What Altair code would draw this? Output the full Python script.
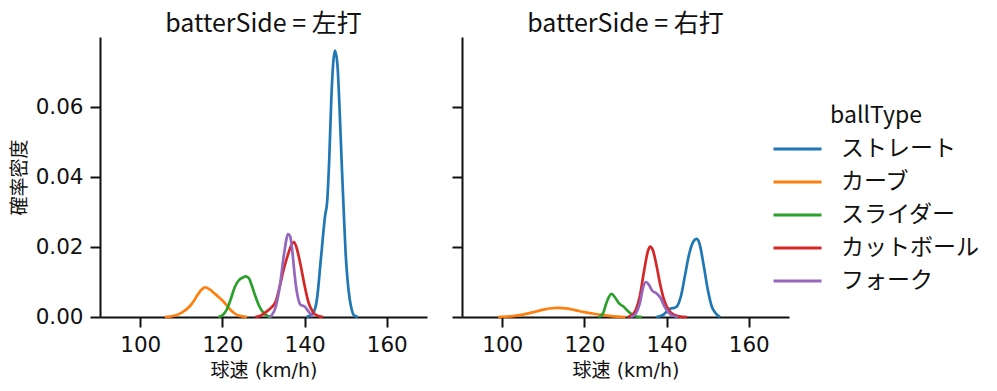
import altair as alt
import pandas as pd

ball_types = ["ストレート", "カーブ", "スライダー", "カットボール", "フォーク"]
colors = ["#1f77b4", "#ff7f0e", "#2ca02c", "#d62728", "#9467bd"]
sides = ["左打", "右打"]

# ---- 左打 ----
L_st_x = [140.5, 142, 143, 144, 145, 145.5, 146, 146.5, 147, 147.4, 148, 148.5, 149, 149.5, 150, 150.5, 151, 151.5, 152, 153]
L_st_y = [0, 0.001, 0.005, 0.017, 0.029, 0.033, 0.045, 0.062, 0.073, 0.0761, 0.072, 0.060, 0.045, 0.031, 0.018, 0.010, 0.005, 0.002, 0.0005, 0]
L_cv_x = [106, 108, 110, 112, 113, 114, 115, 115.8, 117, 118, 119, 120, 121, 122, 123, 124, 126]
L_cv_y = [0, 0.0003, 0.0012, 0.003, 0.0045, 0.0064, 0.0079, 0.0085, 0.0078, 0.0068, 0.0058, 0.0047, 0.0034, 0.002, 0.001, 0.0004, 0]
L_sl_x = [119, 120, 121, 122, 123, 124, 125, 125.7, 126.5, 127, 128, 129, 130, 131, 132]
L_sl_y = [0, 0.0005, 0.002, 0.005, 0.0085, 0.0105, 0.0113, 0.0116, 0.011, 0.0095, 0.006, 0.003, 0.0012, 0.0003, 0]
L_ct_x = [128, 129.5, 131, 132, 133, 134, 135, 136, 137, 137.4, 138, 139, 140, 141, 142, 143, 144.5]
L_ct_y = [0, 0.0005, 0.0018, 0.0028, 0.0045, 0.009, 0.014, 0.018, 0.021, 0.0214, 0.020, 0.015, 0.009, 0.004, 0.0015, 0.0004, 0]
L_fk_x = [131.3, 132, 133, 134, 135, 136, 136.5, 137, 137.5, 138, 138.5, 139, 140, 141, 142]
L_fk_y = [0, 0.0005, 0.003, 0.009, 0.018, 0.0237, 0.023, 0.019, 0.013, 0.008, 0.005, 0.0035, 0.003, 0.0015, 0]

# ---- 右打 ----
R_st_x = [137.5, 139, 140, 141, 141.8, 142.5, 143.5, 144.5, 145.5, 146.5, 147.3, 148, 149, 150, 151, 152, 153]
R_st_y = [0, 0.0005, 0.0015, 0.0024, 0.0026, 0.003, 0.006, 0.012, 0.018, 0.0215, 0.0223, 0.021, 0.015, 0.008, 0.003, 0.001, 0]
R_cv_x = [99, 102, 105, 108, 110, 112, 113.5, 116, 118, 120, 122, 124, 126, 128, 130]
R_cv_y = [0, 0.0002, 0.0007, 0.0015, 0.0021, 0.0025, 0.0026, 0.0024, 0.0019, 0.0014, 0.001, 0.0006, 0.0003, 0.0001, 0]
R_sl_x = [123.5, 124.5, 125.5, 126.6, 127.5, 128.5, 129.5, 130.5, 131.5, 132.5, 134]
R_sl_y = [0, 0.001, 0.0045, 0.0066, 0.0055, 0.0038, 0.003, 0.0018, 0.0008, 0.0002, 0]
R_ct_x = [130.5, 131.5, 132.5, 133.5, 134.5, 135.5, 136, 136.7, 137.5, 138.5, 139.5, 140.5, 141.5, 143, 145]
R_ct_y = [0, 0.0005, 0.002, 0.006, 0.013, 0.019, 0.0201, 0.019, 0.015, 0.009, 0.0045, 0.002, 0.0008, 0.0002, 0]
R_fk_x = [131.3, 132.5, 133.5, 134.3, 135, 135.7, 136.5, 137.5, 138.5, 139.5, 140.5, 141.5, 142.8]
R_fk_y = [0, 0.001, 0.004, 0.0085, 0.010, 0.0092, 0.0075, 0.0068, 0.0055, 0.003, 0.0012, 0.0004, 0]

series = {
    "左打": [(L_st_x, L_st_y), (L_cv_x, L_cv_y), (L_sl_x, L_sl_y), (L_ct_x, L_ct_y), (L_fk_x, L_fk_y)],
    "右打": [(R_st_x, R_st_y), (R_cv_x, R_cv_y), (R_sl_x, R_sl_y), (R_ct_x, R_ct_y), (R_fk_x, R_fk_y)],
}

rows = []
for side in sides:
    for bt, (xs, ys) in zip(ball_types, series[side]):
        for x, y in zip(xs, ys):
            rows.append({"side": side, "ballType": bt, "speed": x, "density": y})
df = pd.DataFrame(rows)

CJK = "Noto Sans CJK JP"
MIX = "DejaVu Sans, Noto Sans CJK JP"
color = alt.Color(
    "ballType:N",
    scale=alt.Scale(domain=ball_types, range=colors),
    legend=alt.Legend(
        title="ballType", orient="none", legendX=672, legendY=68,
        symbolType="stroke", symbolSize=2304, symbolStrokeWidth=2.8,
        clipHeight=22, rowPadding=10, labelOffset=18,
        labelFontSize=23, titleFontSize=23, titleFontWeight="normal",
        titleAnchor="middle", titlePadding=10, labelColor="#111", titleColor="#111",
        labelFont=CJK, titleFont=CJK,
    ),
)


def panel(side, first):
    yaxis = alt.Axis(values=[0, 0.02, 0.04, 0.06], format=".2f", title="確率密度",
                     titleFontSize=19, titlePadding=6) if first else \
        alt.Axis(values=[0, 0.02, 0.04, 0.06], labels=False, title=None)
    return alt.Chart(df[df.side == side], title=alt.TitleParams(
        f"batterSide = {side}", fontSize=25, fontWeight="normal", font=CJK, color="#111", offset=0)
    ).mark_line(strokeWidth=2.7, interpolate="monotone").encode(
        x=alt.X("speed:Q", scale=alt.Scale(domain=[90.2, 169.8], nice=False, zero=False),
                axis=alt.Axis(values=[100, 120, 140, 160], title="球速 (km/h)",
                              titleFontSize=19, titlePadding=6)),
        y=alt.Y("density:Q", scale=alt.Scale(domain=[0, 0.08], nice=False), axis=yaxis),
        color=color,
    ).properties(width=327, height=280)


chart = alt.hconcat(panel("左打", True), panel("右打", False), spacing=24).properties(
    padding={"left": 2, "top": 4, "right": 5, "bottom": 3}
).configure(
    background="white"
).configure_view(
    stroke=None
).configure_axis(
    grid=False, domainColor="#111", domainWidth=2, tickColor="#111", tickWidth=2, tickSize=10,
    labelFontSize=21.5, labelColor="#111", titleColor="#111", titleFontWeight="normal",
    labelFont=MIX, titleFont=MIX, labelPadding=7,
)

chart.save("out.html", embed_options={"renderer": "svg", "actions": False})
